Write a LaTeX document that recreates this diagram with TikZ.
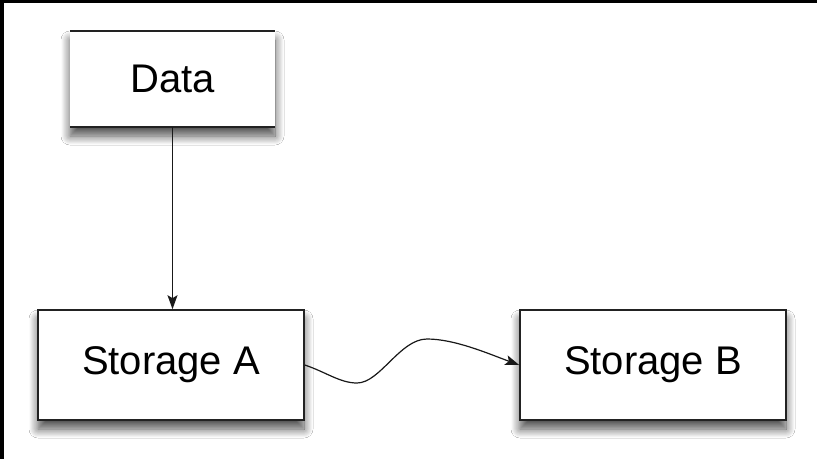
\documentclass[tikz,border=0pt]{standalone}
\usepackage{fontspec}
\setmainfont{Liberation Sans}
\usetikzlibrary{arrows.meta,shadows.blur}
\definecolor{edge}{HTML}{222222}
\tikzset{
  boxshadow/.style={blur shadow={shadow xshift=0pt,shadow yshift=-9pt,shadow blur radius=9pt,shadow opacity=70,shadow blur steps=12}},
  storebox/.style={draw=edge,line width=1.6pt,fill=white,inner sep=0pt,boxshadow,
    minimum width=266pt,minimum height=110pt,font=\fontsize{40}{48}\selectfont},
  databox/.style={fill=white,inner sep=0pt,boxshadow,
    minimum width=205pt,minimum height=96pt,font=\fontsize{40}{48}\selectfont},
  rule/.style={draw=edge,line width=1.6pt},
  conn/.style={draw=black!90,line width=1.2pt,-{Stealth[length=14pt,width=10pt,inset=3pt]}}
}
\begin{document}
\begin{tikzpicture}[x=1pt,y=-1pt]
\useasboundingbox (0,0) rectangle (817,459);
\fill[white] (0,0) rectangle (817,459);
\fill[black] (0,0) rectangle (817,3);
\fill[black] (0,0) rectangle (4,459);
\node[databox] (data) at (172.5,79) {Data};
\draw[rule] (data.north west) -- (data.north east);
\draw[rule] (data.south west) -- (data.south east);
\node[storebox] (sa) at (171,365) {Storage A};
\node[storebox] (sb) at (653,365) {Storage B};
\coordinate (trough) at (357,383);
\coordinate (peak) at (427,339);
\draw[conn] (data.south) -- (data.south |- sa.north);
\draw[conn] (sa.east) .. controls +(21,7) and +(-17,0) .. (trough)
  .. controls +(23,0) and +(-27,0) .. (peak)
  .. controls +(28,0) and +(-30,-11) .. (sb.west);
\end{tikzpicture}
\end{document}
